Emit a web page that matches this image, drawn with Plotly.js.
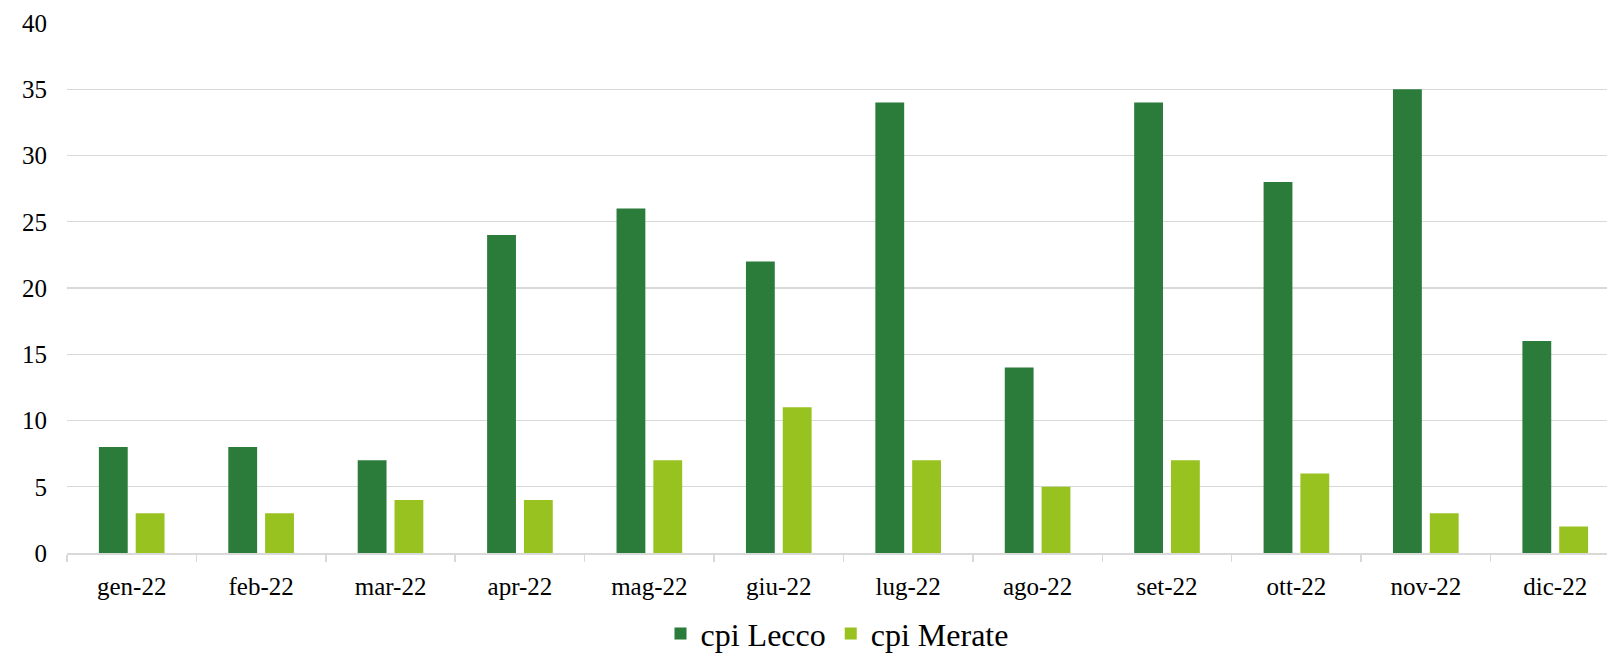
<!DOCTYPE html>
<html>
<head>
<meta charset="utf-8">
<script src="https://cdn.plot.ly/plotly-3.0.1.min.js"></script>
<style>html,body{margin:0;padding:0;background:#fff;}#chart{width:1607px;height:656px;}</style>
</head>
<body>
<div id="chart"></div>
<script>
const months = ["gen-22","feb-22","mar-22","apr-22","mag-22","giu-22","lug-22","ago-22","set-22","ott-22","nov-22","dic-22"];
const cpiLecco = [8,8,7,24,26,22,34,14,34,28,35,16];
const cpiMerate = [3,3,4,4,7,11,7,5,7,6,3,2];
const yTicks = [0,5,10,15,20,25,30,35,40];

const FONT = "Liberation Serif, Cambria, serif";
const traces = [
  {type:"bar", name:"cpi Lecco", x:months, y:cpiLecco, marker:{color:"#2b7b3b"}, hoverinfo:"none"},
  {type:"bar", name:"cpi Merate", x:months, y:cpiMerate, marker:{color:"#97c21f"}, hoverinfo:"none"}
];
const layout = {
  width:1607, height:656,
  margin:{l:67, r:0, t:23, b:102.5, autoexpand:false},
  paper_bgcolor:"#fff", plot_bgcolor:"#fff",
  font:{family:FONT, size:25, color:"#000"},
  barmode:"group", bargap:0.431, bargroupgap:0.217,
  showlegend:true,
  legend:{orientation:"h", x:0.5, xanchor:"center", yref:"container", y:0.034, yanchor:"middle", font:{size:32, family:FONT}, itemclick:false, itemdoubleclick:false},
  xaxis:{type:"category", range:[-0.5, 11.4], tickson:"boundaries", ticks:"outside", ticklen:7, tickcolor:"#d9d9d9", tickwidth:1.5,
         showline:true, linecolor:"#d9d9d9", linewidth:1.5, showgrid:false, tickfont:{size:25, family:FONT}, ticklabelstandoff:10, fixedrange:true},
  yaxis:{range:[0,40], tickvals:yTicks, showgrid:true, gridcolor:"#d9d9d9", gridwidth:1.3, zeroline:false, showline:false, ticks:"",
         tickfont:{size:25, family:FONT}, ticklabelstandoff:19, fixedrange:true}
};
Plotly.newPlot("chart", traces, layout, {displayModeBar:false, staticPlot:true});
</script>
</body>
</html>
